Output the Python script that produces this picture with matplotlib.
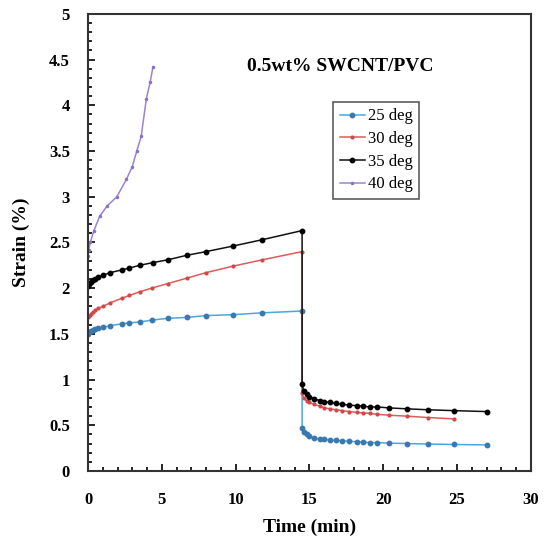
import matplotlib
matplotlib.use("Agg")
import matplotlib.pyplot as plt
from matplotlib.ticker import MultipleLocator

plt.rcParams['font.family'] = ['Liberation Serif', 'DejaVu Serif']

# creep (loading) + recovery curves
t25 = [0, 0.1, 0.2, 0.35, 0.5, 0.7, 1.0, 1.5, 2.3, 2.8, 3.5, 4.3, 5.4, 6.7, 8.0, 9.8, 11.8, 14.5,
       14.5, 14.6, 14.8, 15.0, 15.3, 15.7, 16.0, 16.4, 16.8, 17.2, 17.7, 18.2, 18.6, 19.1, 19.6,
       20.4, 21.6, 23.0, 24.8, 27.0]
s25 = [1.50, 1.52, 1.53, 1.54, 1.55, 1.56, 1.57, 1.59, 1.61, 1.62, 1.63, 1.65, 1.67, 1.68, 1.70,
       1.71, 1.73, 1.75,
       0.47, 0.43, 0.40, 0.38, 0.36, 0.35, 0.345, 0.34, 0.335, 0.33, 0.325, 0.32, 0.315, 0.31,
       0.31, 0.305, 0.30, 0.295, 0.29, 0.285]

t30 = [0, 0.1, 0.2, 0.35, 0.5, 0.7, 1.0, 1.5, 2.3, 2.8, 3.5, 4.3, 5.4, 6.7, 8.0, 9.8, 11.8, 14.5,
       14.5, 14.6, 14.8, 15.0, 15.3, 15.7, 16.0, 16.4, 16.8, 17.2, 17.7, 18.2, 18.6, 19.1, 19.6,
       20.4, 21.6, 23.0, 24.8]
s30 = [1.68, 1.70, 1.72, 1.74, 1.76, 1.78, 1.80, 1.84, 1.89, 1.92, 1.96, 2.00, 2.05, 2.11, 2.17,
       2.24, 2.31, 2.40,
       0.85, 0.80, 0.77, 0.75, 0.73, 0.71, 0.69, 0.68, 0.67, 0.66, 0.65, 0.64, 0.635, 0.63, 0.62,
       0.61, 0.60, 0.585, 0.57]

t35 = [0, 0.1, 0.2, 0.35, 0.5, 0.7, 1.0, 1.5, 2.3, 2.8, 3.5, 4.4, 5.4, 6.7, 8.0, 9.8, 11.8, 14.5,
       14.5, 14.6, 14.8, 15.0, 15.3, 15.7, 16.0, 16.4, 16.8, 17.2, 17.7, 18.2, 18.6, 19.1, 19.6,
       20.4, 21.6, 23.0, 24.8, 27.0]
s35 = [2.02, 2.05, 2.07, 2.09, 2.10, 2.12, 2.14, 2.17, 2.20, 2.22, 2.25, 2.28, 2.31, 2.36, 2.40,
       2.46, 2.53, 2.63,
       0.95, 0.88, 0.84, 0.81, 0.79, 0.77, 0.76, 0.75, 0.74, 0.73, 0.72, 0.715, 0.71, 0.70, 0.70,
       0.69, 0.68, 0.67, 0.66, 0.65]

t40 = [0, 0.05, 0.15, 0.4, 0.8, 1.3, 1.95, 2.6, 3.0, 3.3, 3.6, 3.95, 4.2, 4.4]
s40 = [2.35, 2.42, 2.50, 2.63, 2.79, 2.90, 3.00, 3.19, 3.33, 3.50, 3.66, 4.07, 4.25, 4.42]

series = [
    (t25, s25, '25 deg', '#4aa8dc', '#3a78b0', 3.2),
    (t30, s30, '30 deg', '#e05a5a', '#d04848', 2.0),
    (t35, s35, '35 deg', '#111111', '#000000', 3.2),
    (t40, s40, '40 deg', '#9b82d4', '#8a70c8', 1.5),
]

fig = plt.figure(figsize=(5.44, 5.36), dpi=100)
ax = fig.add_axes([0.1618, 0.1213, 0.8142, 0.8527])

for t, s, lab, col, mcol, ms in series:
    ax.plot(t, s, color=col, lw=1.1, marker='o', ms=ms, mfc=mcol, mec=mcol, label=lab)

ax.set_xlim(0, 30)
ax.set_ylim(0, 5)
ax.xaxis.set_major_locator(MultipleLocator(5))
ax.xaxis.set_minor_locator(MultipleLocator(1))
ax.yaxis.set_major_locator(MultipleLocator(0.5))
ax.yaxis.set_minor_locator(MultipleLocator(0.1))
ax.yaxis.set_major_formatter(plt.FuncFormatter(lambda v, p: f'{v:g}'))
ax.tick_params(which='both', direction='in', top=False, right=False, width=1.2)
ax.tick_params(which='major', length=5, labelsize=12)
ax.tick_params(axis='y', which='major', pad=13)
ax.tick_params(axis='x', which='major', pad=15)
ax.tick_params(which='minor', length=3)
for lbl in ax.get_xticklabels() + ax.get_yticklabels():
    lbl.set_fontweight('bold')
for sp in ax.spines.values():
    sp.set_linewidth(1.5)
    sp.set_color('#333333')

ax.set_xlabel('Time (min)', fontsize=14, fontweight='bold', labelpad=8)
ax.set_ylabel('Strain (%)', fontsize=14, fontweight='bold', labelpad=14)
ax.text(17.1, 4.42, '0.5wt% SWCNT/PVC', fontsize=14, fontweight='bold', ha='center', va='center')

leg = ax.legend(loc='upper left', bbox_to_anchor=(0.553, 0.808), fontsize=12, frameon=True,
                fancybox=False, edgecolor='#333333', handlelength=1.5, handletextpad=0.2,
                borderpad=0.4, labelspacing=0.4, borderaxespad=0)
leg.get_frame().set_linewidth(1.2)

fig.savefig('out.png', dpi=100)
